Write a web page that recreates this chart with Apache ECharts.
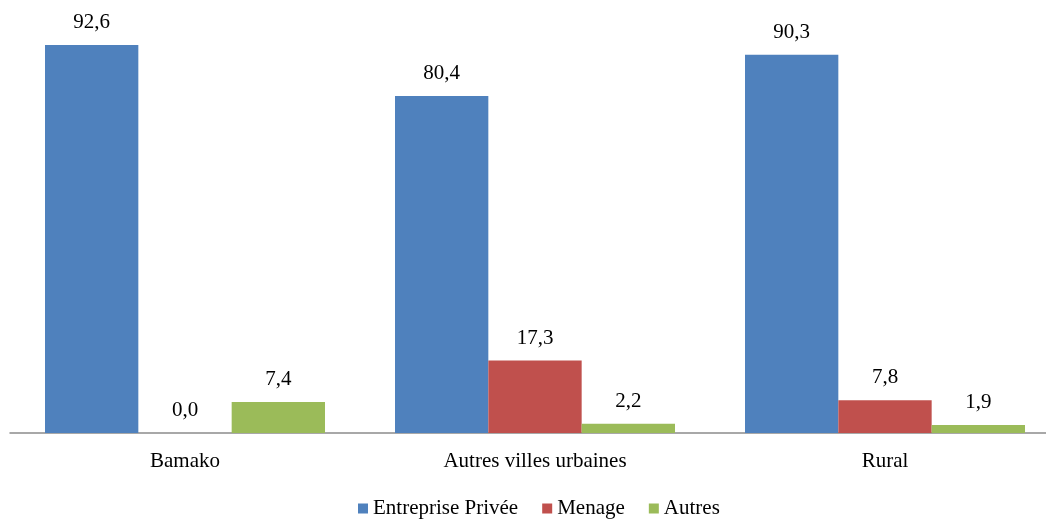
<!DOCTYPE html>
<html><head><meta charset="utf-8">
<script src="https://cdn.jsdelivr.net/npm/echarts@6/dist/echarts.min.js"></script>
<style>html,body{margin:0;padding:0;background:#fff;overflow:hidden}#c{width:1060px;height:521px}</style>
</head><body><div id="c"></div>
<script>
const categories = ['Bamako', 'Autres villes urbaines', 'Rural'];
const entreprisePrivee = [92.6, 80.4, 90.3];
const menage = [0.0, 17.3, 7.8];
const autres = [7.4, 2.2, 1.9];
const seriesNames = ['Entreprise Privée', 'Menage', 'Autres'];
const colors = ['#4F81BD', '#C0504D', '#9BBB59'];
const font = '"Liberation Serif", "Times New Roman", serif';
const fmt = p => p.value.toFixed(1).replace('.', ',');
const mk = (name, data, color) => ({
  name, type: 'bar', data, barGap: 0, barCategoryGap: '20%',
  itemStyle: { color },
  label: { show: true, position: 'top', distance: 12, formatter: fmt,
    fontFamily: font, fontSize: 21, color: '#000' }
});
const chart = echarts.init(document.getElementById('c'));
chart.setOption({
  animation: false,
  grid: { left: 10, right: 0, top: 14, height: 419 },
  legend: { bottom: -3, left: 353, itemWidth: 10, itemHeight: 10, itemGap: 24,
    icon: 'rect', textStyle: { fontFamily: font, fontSize: 21, color: '#000' },
    data: seriesNames },
  xAxis: { type: 'category', data: categories,
    axisLine: { lineStyle: { color: '#8C8C8C', width: 1.5 } },
    axisTick: { show: false },
    axisLabel: { margin: 18, fontFamily: font, fontSize: 21, color: '#000' } },
  yAxis: { type: 'value', min: 0, max: 100, show: false, splitLine: { show: false } },
  series: [
    mk(seriesNames[0], entreprisePrivee, colors[0]),
    mk(seriesNames[1], menage, colors[1]),
    mk(seriesNames[2], autres, colors[2])
  ]
});
</script></body></html>
